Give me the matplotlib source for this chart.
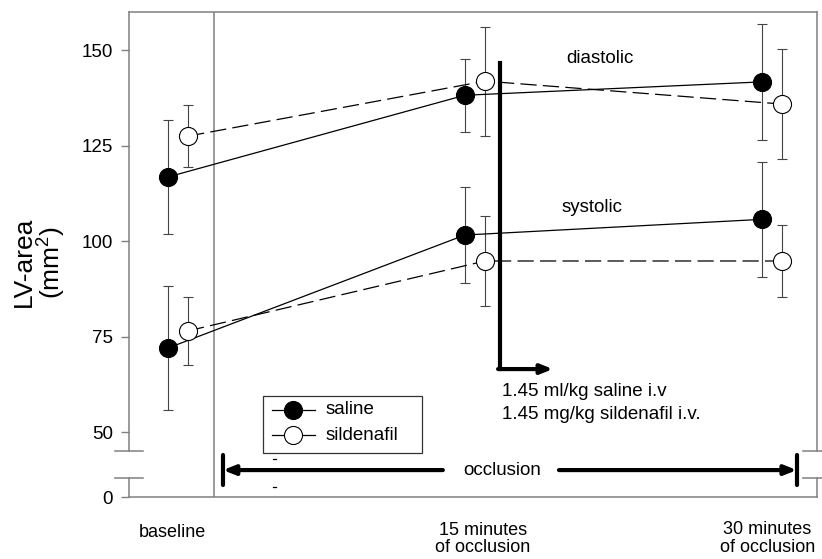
import matplotlib
matplotlib.use("Agg")
import matplotlib.pyplot as plt
from matplotlib.patches import Rectangle

plt.rcParams['font.family'] = ['Liberation Sans', 'DejaVu Sans']
plt.rcParams['mathtext.default'] = 'regular'

# ---------------- data ----------------
categories = ["baseline", "15 minutes\nof occlusion", "30 minutes\nof occlusion"]
ytick_values = [0, 50, 75, 100, 125, 150]

dia_saline = [116.8, 138.2, 141.7]
dia_saline_sd = [15.0, 9.5, 15.2]
dia_sild = [127.5, 141.9, 135.9]
dia_sild_sd = [8.2, 14.3, 14.3]

sys_saline = [72.0, 101.6, 105.7]
sys_saline_sd = [16.3, 12.5, 15.0]
sys_sild = [76.5, 94.8, 94.8]
sys_sild_sd = [9.0, 11.9, 9.5]

# broken axis: values >= 50 drawn linearly, 0 drawn at ZERO_POS
ZERO_POS = 33.0
def ty(v):
    return v if v >= 50 else ZERO_POS + (v / 50.0) * (50 - ZERO_POS)

W, H = 822, 559
fig = plt.figure(figsize=(W / 100, H / 100), dpi=100)
L, R, T, B = 129, 817, 12, 497
ax = fig.add_axes([L / W, 1 - B / H, (R - L) / W, (B - T) / H])

FS = 13.5
GRAY = '#808080'
EGRAY = '#444444'

x = list(range(len(categories)))
off = 0.034
xs_sal = [i - off for i in x]
xs_sil = [i + off for i in x]

for xs, ys, sd in [(xs_sal, dia_saline, dia_saline_sd), (xs_sil, dia_sild, dia_sild_sd),
                   (xs_sal, sys_saline, sys_saline_sd), (xs_sil, sys_sild, sys_sild_sd)]:
    ax.errorbar(xs, ys, yerr=sd, fmt='none', ecolor=EGRAY, elinewidth=0.8,
                capsize=3.6, capthick=0.8, zorder=2)

for ys in (dia_saline, sys_saline):
    ax.plot(xs_sal, ys, color='black', lw=0.9, marker='o', ms=13,
            mfc='black', mec='black', mew=0.8, zorder=4)
for ys in (dia_sild, sys_sild):
    ax.plot(xs_sil, ys, color='black', lw=0.9, dashes=(13, 5), marker='o', ms=13,
            mfc='white', mec='black', mew=0.8, zorder=4)

ax.set_xlim(-0.165, 2.152)
ax.set_ylim(ZERO_POS, 160)
ax.set_xticks([])
ax.set_yticks([ty(v) for v in ytick_values])
ax.set_yticklabels([str(v) for v in ytick_values], fontsize=FS)
ax.tick_params(axis='y', direction='out', length=5.5, width=1.0, color=GRAY, pad=6)

for s in ('top', 'bottom'):
    ax.spines[s].set_color(GRAY)
    ax.spines[s].set_linewidth(1.1)
ax.spines['left'].set_visible(False)
ax.spines['right'].set_visible(False)

brk_hi, brk_lo = 45.0, 38.0
ytr = ax.get_yaxis_transform()
for xa in (0.0, 1.0):
    ax.plot([xa, xa], [brk_hi, 160], color=GRAY, lw=1.1, transform=ytr, clip_on=False, zorder=1)
    ax.plot([xa, xa], [ZERO_POS, brk_lo], color=GRAY, lw=1.1, transform=ytr, clip_on=False, zorder=1)
    for yb in (brk_hi, brk_lo):
        ax.plot([xa - 0.0205, xa + 0.0205], [yb, yb], color=GRAY, lw=1.1,
                transform=ytr, clip_on=False, zorder=1)

# baseline separator
ax.axvline(0.121, color=GRAY, lw=1.1, zorder=1)

# texts
ax.text(1.421, 147.9, "diastolic", fontsize=FS, ha='center', va='center')
ax.text(1.394, 108.9, "systolic", fontsize=FS, ha='center', va='center')

# injection arrow
ax.plot([1.084, 1.084], [146.6, 66.5], color='black', lw=3, solid_joinstyle='miter', zorder=5)
ax.annotate('', xy=(1.2626, 66.5), xytext=(1.078, 66.5),
            arrowprops=dict(arrowstyle='-|>,head_length=0.7,head_width=0.28', lw=3,
                            color='black', shrinkA=0, shrinkB=0))
ax.text(1.091, 60.5, "1.45 ml/kg saline i.v", fontsize=FS, ha='left', va='center')
ax.text(1.091, 54.7, "1.45 mg/kg sildenafil i.v.", fontsize=FS, ha='left', va='center')

# occlusion arrow
occ_y = 40.05
ax.annotate('', xy=(0.1515, occ_y), xytext=(0.892, occ_y),
            arrowprops=dict(arrowstyle='-|>,head_length=0.7,head_width=0.28', lw=3,
                            color='black', shrinkA=0, shrinkB=0))
ax.annotate('', xy=(2.084, occ_y), xytext=(1.283, occ_y),
            arrowprops=dict(arrowstyle='-|>,head_length=0.7,head_width=0.28', lw=3,
                            color='black', shrinkA=0, shrinkB=0))
for xb in (0.1515, 2.084):
    ax.plot([xb, xb], [43.98, 36.1], color='black', lw=3, solid_capstyle='round', zorder=5)
ax.text(1.091, occ_y, "occlusion", fontsize=FS, ha='center', va='center')

# category labels
xtr = ax.get_xaxis_transform()
lab_dx = [-0.02, 0.027, -0.015]
lab_y = [-0.0722, -0.0866, -0.0856]
for i, c in enumerate(categories):
    ax.text(i + lab_dx[i], lab_y[i], c, fontsize=13, ha='center', va='center',
            linespacing=1.05, transform=xtr)

# y label
fig.text(40 / W, 1 - 262 / H, "LV-area\n(mm$^2$)", rotation=90, fontsize=19,
         ha='center', va='center', multialignment='center', linespacing=1.0)

# legend drawn in pixel overlay
ov = fig.add_axes([0, 0, 1, 1], zorder=6)
ov.set_xlim(0, W)
ov.set_ylim(H, 0)
ov.axis('off')
ov.patch.set_alpha(0)
ov.add_patch(Rectangle((263, 396), 159, 57, facecolor='white', edgecolor='#333333', lw=0.9))
for yy, fc, lab in [(410, 'black', 'saline'), (435, 'white', 'sildenafil')]:
    ov.plot([272, 315], [yy, yy], color='black', lw=0.9)
    ov.plot([293], [yy], marker='o', ms=13, mfc=fc, mec='black', mew=0.8)
    ov.text(326, yy, lab, fontsize=FS, ha='left', va='center')
for yy in (459, 487):
    ov.plot([272.5, 276], [yy, yy], color='black', lw=0.9)

fig.savefig("out.png", dpi=100)
